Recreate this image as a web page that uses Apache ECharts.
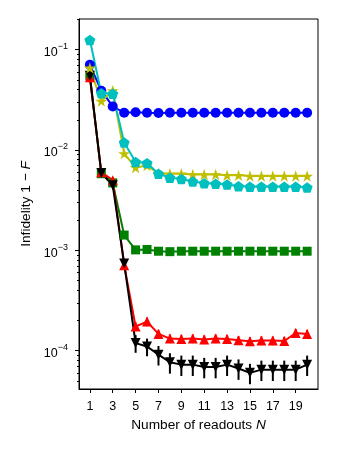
<!DOCTYPE html>
<html>
<head>
<meta charset="utf-8">
<script src="https://cdn.jsdelivr.net/npm/echarts@6/dist/echarts.min.js"></script>
<style>
  html, body { margin: 0; padding: 0; background: #fff; }
  #chart { width: 338px; height: 450px; }
</style>
</head>
<body>
<div id="chart"></div>
<script>
// readouts N = 1..20
var readouts = [1, 2, 3, 4, 5, 6, 7, 8, 9, 10, 11, 12, 13, 14, 15, 16, 17, 18, 19, 20];
var xTicks = [1, 3, 5, 7, 9, 11, 13, 15, 17, 19];
var yMajor = [1e-4, 1e-3, 1e-2, 1e-1];
var yMinor = [5e-5, 6e-5, 7e-5, 8e-5, 9e-5,
  2e-4, 3e-4, 4e-4, 5e-4, 6e-4, 7e-4, 8e-4, 9e-4,
  2e-3, 3e-3, 4e-3, 5e-3, 6e-3, 7e-3, 8e-3, 9e-3,
  2e-2, 3e-2, 4e-2, 5e-2, 6e-2, 7e-2, 8e-2, 9e-2, 2e-1];

var blueVals = [0.0705, 0.039, 0.0272, 0.0235, 0.0238, 0.0235, 0.0234, 0.0235, 0.0235, 0.0235,
  0.0235, 0.0235, 0.0235, 0.0235, 0.0235, 0.0235, 0.0235, 0.0235, 0.0235, 0.0235];
var yellowVals = [0.0658, 0.0307, 0.039, 0.0092, 0.0067, 0.0070, 0.0058, 0.0058, 0.0058, 0.0057,
  0.0057, 0.0057, 0.0056, 0.0056, 0.0055, 0.0055, 0.0055, 0.0055, 0.0055, 0.0055];
var cyanVals = [0.125, 0.0368, 0.0363, 0.0119, 0.0076, 0.0074, 0.0058, 0.0053, 0.00515, 0.00485,
  0.00467, 0.0046, 0.00453, 0.00436, 0.0043, 0.0043, 0.0043, 0.0043, 0.0043, 0.00423];
var greenVals = [0.055, 0.0058, 0.0047, 0.00142, 0.00101, 0.00102, 0.00098, 0.00097, 0.00098, 0.00098,
  0.00098, 0.00098, 0.00098, 0.00098, 0.00098, 0.00098, 0.00098, 0.00098, 0.00098, 0.00098];
var redVals = [0.053, 0.006, 0.0050, 0.00071, 0.000174, 0.000195, 0.000147, 0.000132, 0.000131, 0.000132,
  0.000129, 0.000132, 0.000131, 0.000127, 0.000124, 0.000126, 0.000126, 0.000125, 0.00015, 0.000147];
var blackVals = [0.055, 0.0059, 0.00445, 0.00074, 0.000119, 0.000110, 0.0000912, 0.0000766, 0.0000726, 0.0000726,
  0.0000689, 0.0000689, 0.0000726, 0.0000665, 0.0000601, 0.0000647, 0.0000647, 0.0000647, 0.0000647, 0.0000726];
// relative error bars
var redErr = [0.03, 0.05, 0.05, 0.06, 0.1, 0.1, 0.1, 0.1, 0.1, 0.1,
  0.1, 0.1, 0.1, 0.1, 0.1, 0.1, 0.1, 0.1, 0.1, 0.1];
var blackErr = [0.03, 0.06, 0.06, 0.08, 0.2, 0.2, 0.22, 0.23, 0.23, 0.23,
  0.23, 0.23, 0.23, 0.23, 0.23, 0.23, 0.23, 0.23, 0.23, 0.23];

var FONT = 'Liberation Sans, Arial, sans-serif';
var STAR = 'path://M50,0 L61.17,34.63 L97.55,34.55 L68.07,55.87 L79.39,90.45 L50,69 L20.61,90.45 L31.93,55.87 L2.45,34.55 L38.83,34.63 Z';
var PENTA = 'path://M50,0 L97.6,34.5 L79.4,90.5 L20.6,90.5 L2.4,34.5 Z';

function pairs(vals) {
  return readouts.map(function (n, i) { return [n, vals[i]]; });
}

function errData(vals, rel) {
  return readouts.map(function (n, i) {
    return [n, vals[i] * (1 - rel[i]), vals[i] * (1 + rel[i])];
  });
}

function errSeries(vals, rel, color) {
  return {
    type: 'custom',
    silent: true,
    data: errData(vals, rel),
    encode: { x: 0, y: [1, 2] },
    renderItem: function (params, api) {
      var lo = api.coord([api.value(0), api.value(1)]);
      var hi = api.coord([api.value(0), api.value(2)]);
      return {
        type: 'line',
        shape: { x1: lo[0], y1: lo[1], x2: hi[0], y2: hi[1] },
        style: { stroke: color, lineWidth: 2 }
      };
    }
  };
}

function lineSeries(vals, color, symbol, size, extra) {
  var s = {
    type: 'line',
    data: pairs(vals),
    symbol: symbol,
    symbolSize: size,
    symbolKeepAspect: true,
    showAllSymbol: true,
    lineStyle: { color: color, width: 2 },
    itemStyle: { color: color },
    emphasis: { disabled: true },
    animation: false
  };
  for (var k in extra) s[k] = extra[k];
  return s;
}

var chart = echarts.init(document.getElementById('chart'));
chart.setOption({
  animation: false,
  textStyle: { fontFamily: FONT },
  grid: { left: 79, top: 19, right: 20, bottom: 61, show: true, borderColor: '#000', borderWidth: 1 },
  xAxis: {
    type: 'value',
    min: 0.05,
    max: 20.95,
    name: 'Number of readouts {i|N}',
    nameLocation: 'middle',
    nameGap: 27,
    nameTextStyle: {
      color: '#000', fontSize: 13.7, fontFamily: FONT,
      rich: { i: { fontStyle: 'italic', fontSize: 13.7, fontFamily: FONT, color: '#000' } }
    },
    axisLine: { lineStyle: { color: '#000', width: 1 } },
    axisTick: { customValues: xTicks, length: 4, lineStyle: { color: '#000' } },
    axisLabel: { customValues: xTicks, color: '#000', fontSize: 12.5, fontFamily: FONT, margin: 11 },
    splitLine: { show: false }
  },
  yAxis: [{
    type: 'log',
    min: 4.15e-5,
    max: 0.202,
    name: 'Infidelity 1 − {i|F}',
    nameLocation: 'middle',
    nameGap: 42,
    nameTextStyle: {
      color: '#000', fontSize: 13.7, fontFamily: FONT,
      rich: { i: { fontStyle: 'italic', fontSize: 13.7, fontFamily: FONT, color: '#000' } }
    },
    axisLine: { show: true, lineStyle: { color: '#000', width: 1 } },
    axisTick: { customValues: yMajor, length: 4, lineStyle: { color: '#000' } },
    axisLabel: {
      customValues: yMajor,
      color: '#000',
      margin: 11,
      formatter: function (v) {
        var e = Math.round(Math.log10(v));
        return '{b|10}{s|' + (e < 0 ? '−' : '') + Math.abs(e) + '}';
      },
      rich: {
        b: { fontSize: 12.5, fontFamily: FONT, color: '#000', padding: [6, 0, 0, 0] },
        s: { fontSize: 9, fontFamily: FONT, color: '#000', padding: [0, 0, 6, 0] }
      }
    },
    splitLine: { show: false }
  }, {
    type: 'log',
    min: 4.15e-5,
    max: 0.202,
    position: 'left',
    axisLine: { show: false },
    axisTick: { customValues: yMinor, length: 2, lineStyle: { color: '#000' } },
    axisLabel: { show: false },
    splitLine: { show: false }
  }],
  series: [
    lineSeries(greenVals, '#008000', 'rect', 9),
    errSeries(redVals, redErr, '#ff0000'),
    lineSeries(redVals, '#ff0000', 'triangle', 10),
    errSeries(blackVals, blackErr, '#000000'),
    lineSeries(blackVals, '#000000', 'triangle', 10, { symbolRotate: 180 }),
    lineSeries(blueVals, '#0000ff', 'circle', 10),
    lineSeries(yellowVals, '#bfbf00', STAR, 12),
    lineSeries(cyanVals, '#00bfbf', PENTA, 11)
  ]
});
</script>
</body>
</html>
